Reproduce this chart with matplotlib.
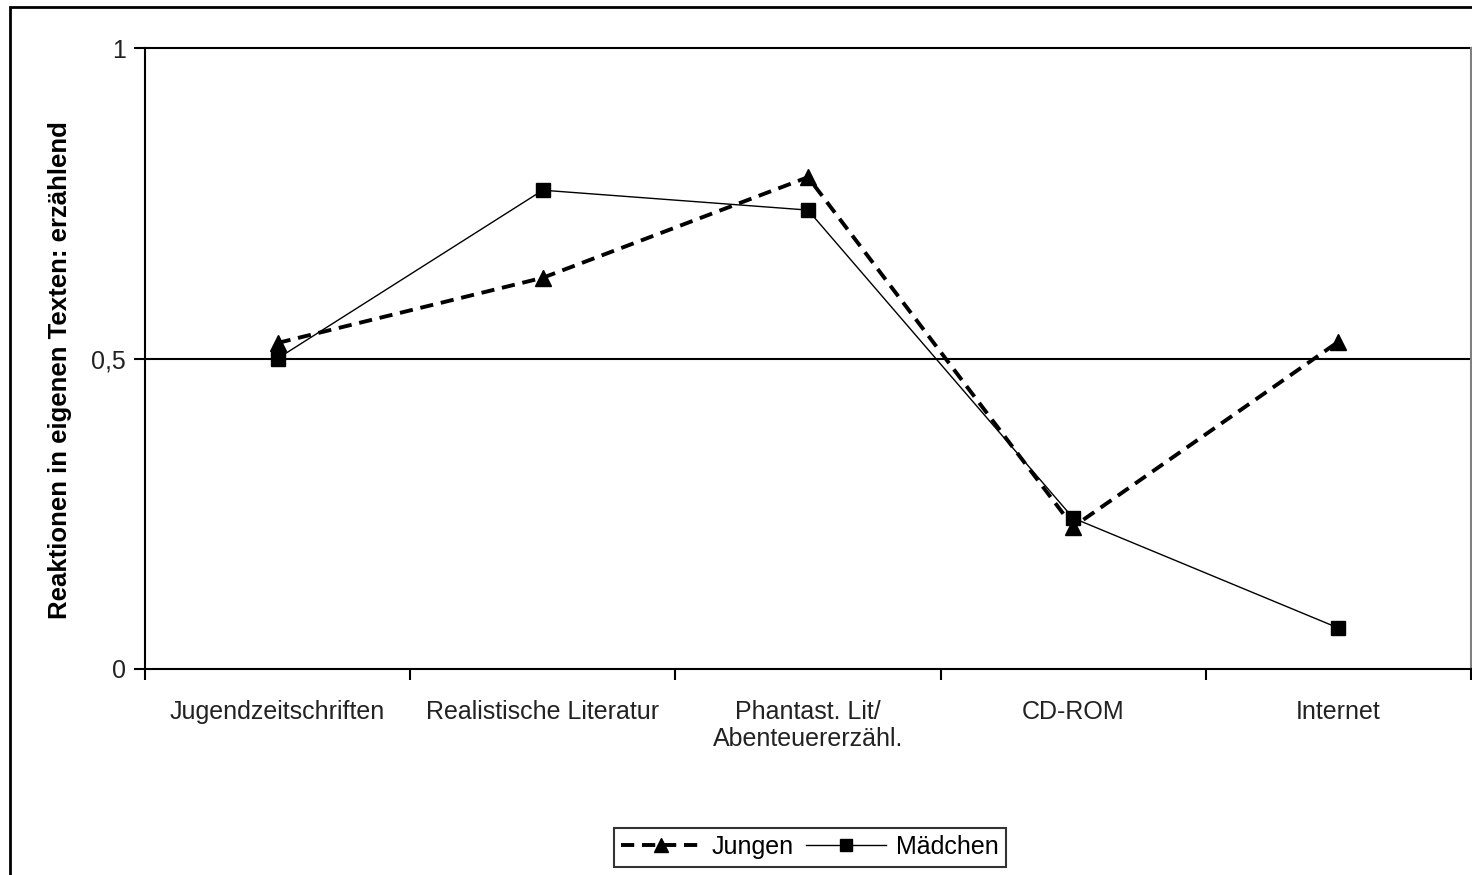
import matplotlib
matplotlib.use("Agg")
import matplotlib.pyplot as plt
from matplotlib.lines import Line2D
from matplotlib.patches import Rectangle

categories = ["Jugendzeitschriften", "Realistische Literatur",
              "Phantast. Lit/\nAbenteuererzähl.", "CD-ROM", "Internet"]
jungen = [0.525, 0.63, 0.792, 0.229, 0.527]
maedchen = [0.50, 0.771, 0.739, 0.243, 0.066]
y_ticks = [0, 0.5, 1]
y_tick_labels = ["0", "0,5", "1"]
y_label = "Reaktionen in eigenen Texten: erzählend"

plt.rcParams["font.family"] = ["Liberation Sans", "DejaVu Sans"]

W, H = 1472, 875
fig = plt.figure(figsize=(W / 100, H / 100), dpi=100)
fig.patch.set_facecolor("white")

# outer chart frame
fig.patches.append(Rectangle((10 / W, -0.1), 1.2, 1 - 7 / H + 0.1,
                             transform=fig.transFigure, fill=False,
                             edgecolor="black", linewidth=2.0))

left, right, top, bottom = 145, 1471, 48, 669
ax = fig.add_axes([left / W, 1 - bottom / H, (right - left) / W, (bottom - top) / H])

x = list(range(len(categories)))
ax.plot(x, jungen, color="black", linewidth=2.8, linestyle=(0, (3.4, 2.0)),
        marker="^", markersize=11, markerfacecolor="black", markeredgecolor="black",
        label="Jungen", zorder=3)
ax.plot(x, maedchen, color="black", linewidth=1.0, linestyle="-",
        marker="s", markersize=10, markerfacecolor="black", markeredgecolor="black",
        label="Mädchen", zorder=4)

ax.set_xlim(-0.5, len(categories) - 0.5)
ax.set_ylim(0, 1)

for yv in [0.5, 1.0]:
    ax.axhline(yv, color="black", linewidth=1.5, zorder=1, clip_on=False)

ax.set_yticks(y_ticks)
ax.set_yticklabels(y_tick_labels, fontsize=18, color="#222222")
ax.tick_params(axis="y", direction="out", length=8, width=1.5, pad=6)

# category boundaries carry the ticks, labels sit at the centres
ax.set_xticks([i - 0.5 for i in range(len(categories) + 1)])
ax.set_xticklabels([])
ax.set_xticks(x, minor=True)
ax.set_xticklabels(categories, minor=True, fontsize=18, color="#222222",
                   linespacing=1.2)
ax.tick_params(axis="x", which="major", direction="out", length=8, width=1.5)
ax.tick_params(axis="x", which="minor", length=0, pad=22)

ax.spines["top"].set_visible(False)
ax.spines["right"].set_color("#808080")
ax.spines["right"].set_linewidth(1.5)
ax.spines["left"].set_linewidth(1.5)
ax.spines["bottom"].set_linewidth(1.5)

fig.text(60 / W, 1 - 370 / H, y_label, rotation=90, fontsize=18.5,
         fontweight="bold", ha="center", va="center")

handles = [
    Line2D([], [], color="black", linewidth=2.8, linestyle=(0, (3.4, 2.0)),
           marker="^", markersize=10, markerfacecolor="black"),
    Line2D([], [], color="black", linewidth=1.0, linestyle="-",
           marker="s", markersize=9, markerfacecolor="black"),
]
leg = fig.legend(handles, ["Jungen", "Mädchen"], loc="center",
                 bbox_to_anchor=(810 / W, 1 - 847 / H), ncol=2, fontsize=18,
                 frameon=True, fancybox=False, handlelength=3.2,
                 handletextpad=0.4, columnspacing=0.5, borderpad=0.3,
                 borderaxespad=0)
leg.get_frame().set_edgecolor("black")
leg.get_frame().set_linewidth(1.5)

fig.savefig("out.png", dpi=100, facecolor="white")
